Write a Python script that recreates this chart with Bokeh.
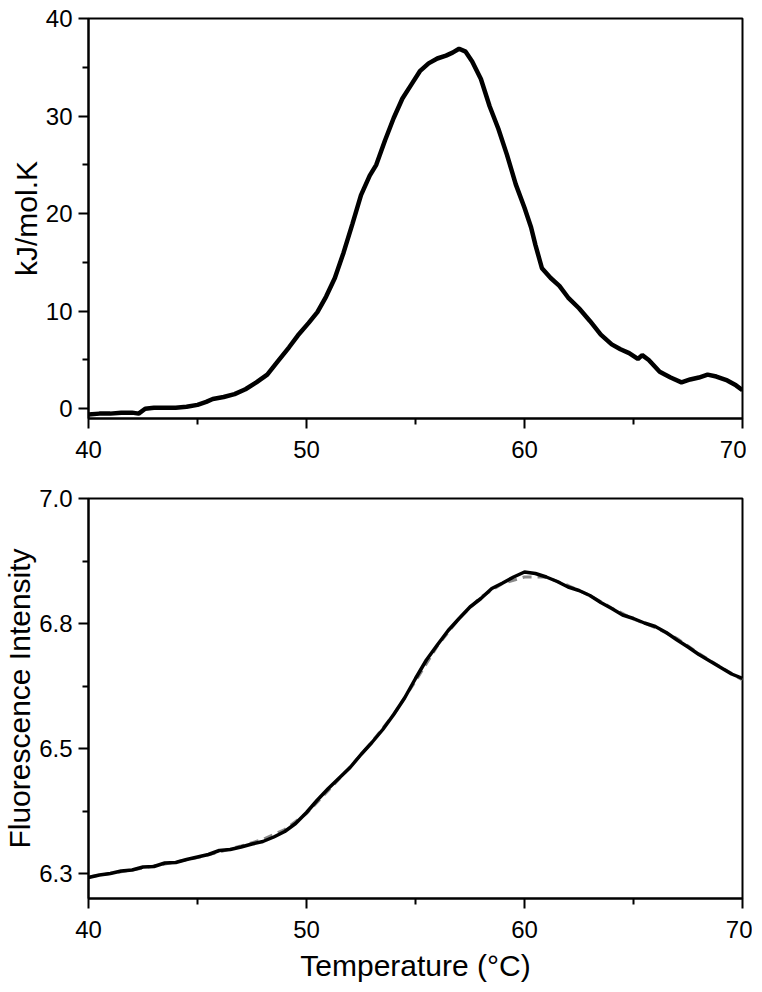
from bokeh.plotting import figure
from bokeh.layouts import column
from bokeh.models import FixedTicker
from bokeh.embed import file_html
from bokeh.resources import INLINE

# ---- DSC (top panel) ----
dsc_t = [40.0, 40.5, 41.0, 41.5, 42.0, 42.3, 42.6, 43.0, 43.5, 44.0, 44.5, 45.0, 45.4, 45.7,
         46.2, 46.7, 47.2, 47.7, 48.2, 48.7, 49.2, 49.6, 50.1, 50.5, 50.9, 51.3, 51.7, 52.1,
         52.5, 52.9, 53.2, 53.6, 54.0, 54.4, 54.8, 55.2, 55.6, 56.0, 56.4, 56.7, 57.0, 57.3,
         57.6, 58.0, 58.4, 58.8, 59.2, 59.6, 60.0, 60.3, 60.5, 60.8, 61.2, 61.6, 62.0, 62.5,
         63.0, 63.5, 64.0, 64.4, 64.8, 65.2, 65.4, 65.7, 66.2, 66.7, 67.2, 67.6, 68.0, 68.4,
         68.8, 69.3, 69.7, 70.0]
dsc_cp = [-0.6, -0.5, -0.5, -0.4, -0.4, -0.5, 0.0, 0.1, 0.1, 0.1, 0.2, 0.4, 0.7, 1.0,
          1.2, 1.5, 2.0, 2.7, 3.5, 4.9, 6.3, 7.5, 8.8, 9.9, 11.5, 13.4, 16.0, 18.9,
          21.9, 23.9, 25.0, 27.5, 29.8, 31.8, 33.2, 34.6, 35.4, 35.9, 36.2, 36.5, 36.9, 36.6,
          35.6, 33.8, 31.0, 28.7, 26.0, 23.0, 20.6, 18.6, 16.8, 14.4, 13.4, 12.6, 11.4, 10.3,
          9.0, 7.6, 6.6, 6.1, 5.7, 5.1, 5.5, 5.0, 3.8, 3.2, 2.7, 3.0, 3.2, 3.5,
          3.3, 2.9, 2.4, 1.9]

# ---- Fluorescence (bottom panel) ----
fl_t = [40.0, 40.5, 41.0, 41.5, 42.0, 42.5, 43.0, 43.5, 44.0, 44.5, 45.0, 45.5, 46.0, 46.5,
        47.0, 47.5, 48.0, 48.5, 49.0, 49.5, 50.0, 50.5, 51.0, 51.5, 52.0, 52.5, 53.0, 53.5,
        54.0, 54.5, 55.0, 55.5, 56.0, 56.5, 57.0, 57.5, 58.0, 58.5, 59.0, 59.5, 60.0, 60.5,
        61.0, 61.5, 62.0, 62.5, 63.0, 63.5, 64.0, 64.5, 65.0, 65.5, 66.0, 66.5, 67.0, 67.5,
        68.0, 68.5, 69.0, 69.5, 70.0]
fl_int = [6.242, 6.247, 6.250, 6.255, 6.257, 6.263, 6.264, 6.271, 6.272, 6.278, 6.283, 6.288, 6.296, 6.298,
          6.303, 6.309, 6.314, 6.323, 6.334, 6.350, 6.372, 6.397, 6.420, 6.441, 6.462, 6.488, 6.512, 6.538,
          6.568, 6.601, 6.640, 6.677, 6.707, 6.736, 6.760, 6.783, 6.800, 6.820, 6.831, 6.843, 6.853, 6.850,
          6.843, 6.834, 6.823, 6.816, 6.806, 6.792, 6.780, 6.767, 6.760, 6.751, 6.744, 6.732, 6.717, 6.703,
          6.688, 6.675, 6.662, 6.649, 6.640]
fit_t = [40, 41, 42, 43, 44, 45, 46, 47, 48, 49, 50, 51, 52, 53, 54, 55, 56, 57, 58, 59, 60,
         61, 62, 63, 64, 65, 66, 67, 68, 69, 70]
fit_int = [6.243, 6.250, 6.257, 6.265, 6.273, 6.282, 6.293, 6.305, 6.318, 6.338, 6.370, 6.416,
           6.463, 6.513, 6.568, 6.635, 6.705, 6.760, 6.803, 6.830, 6.843, 6.843, 6.826, 6.806,
           6.781, 6.759, 6.742, 6.720, 6.690, 6.663, 6.637]

x_ticks = [40, 50, 60, 70]
x_minor = [45, 55, 65]
top_y_ticks = [0, 10, 20, 30, 40]
top_y_minor = [5, 15, 25, 35]
bot_y_ticks = [6.25, 6.5, 6.75, 7.0]
bot_y_labels = ["6.3", "6.5", "6.8", "7.0"]
bot_y_minor = [6.375, 6.625, 6.875]

FONT = "Liberation Sans"


def style(p):
    p.grid.visible = False
    p.outline_line_color = "black"
    p.outline_line_width = 2
    p.outline_line_alpha = 1
    p.background_fill_color = "white"
    p.border_fill_color = "white"
    for ax in (p.xaxis[0], p.yaxis[0]):
        ax.axis_line_width = 2
        ax.axis_line_color = "black"
        ax.major_tick_line_width = 2
        ax.minor_tick_line_width = 2
        ax.major_tick_out = 10
        ax.major_tick_in = 0
        ax.minor_tick_out = 6
        ax.minor_tick_in = 0
        ax.major_label_text_font = FONT
        ax.major_label_text_font_size = "24px"
        ax.major_label_text_color = "black"
        ax.axis_label_text_font = FONT
        ax.axis_label_text_font_size = "30px"
        ax.axis_label_text_font_style = "normal"
        ax.axis_label_text_color = "black"
    p.xaxis[0].major_label_standoff = 12
    p.yaxis[0].major_label_standoff = 6
    p.yaxis[0].axis_label_standoff = 0
    p.xaxis[0].axis_label_standoff = 8
    p.xaxis[0].ticker = FixedTicker(ticks=x_ticks, minor_ticks=x_minor)


top = figure(frame_width=654, frame_height=400, x_range=(40, 70), y_range=(-1, 40),
             min_border_left=80, min_border_right=10, min_border_top=18, min_border_bottom=50,
             output_backend="svg", toolbar_location=None)
style(top)
top.yaxis[0].ticker = FixedTicker(ticks=top_y_ticks, minor_ticks=top_y_minor)
top.yaxis[0].axis_label = "kJ/mol.K"
top.line(dsc_t, dsc_cp, line_color="black", line_width=4.5)

bot = figure(frame_width=654, frame_height=400, x_range=(40, 70), y_range=(6.2, 7.0),
             min_border_left=80, min_border_right=10, min_border_top=30, min_border_bottom=60,
             output_backend="svg", toolbar_location=None)
style(bot)
bot.yaxis[0].ticker = FixedTicker(ticks=bot_y_ticks, minor_ticks=bot_y_minor)
bot.yaxis[0].major_label_overrides = {t: l for t, l in zip(bot_y_ticks, bot_y_labels)}
bot.yaxis[0].axis_label = "Fluorescence Intensity"
bot.xaxis[0].axis_label = "Temperature (\u00b0C)"
bot.line(fit_t, fit_int, line_color="#8a8a8a", line_width=3, line_dash="9 6")
bot.line(fl_t, fl_int, line_color="black", line_width=3.5)

layout = column(top, bot, spacing=0)
open("out.html", "w").write(file_html(layout, INLINE))
